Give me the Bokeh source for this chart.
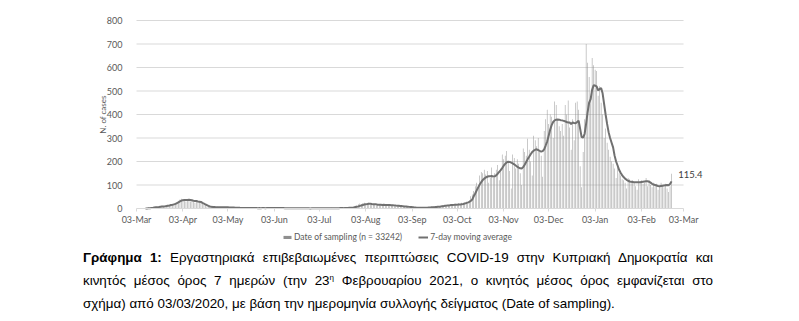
import math
import numpy as np
import pandas as pd
from bokeh.plotting import figure
from bokeh.models import Range1d, FixedTicker, Legend, LegendItem, Label, Div, ColumnDataSource
from bokeh.layouts import column
from bokeh.embed import file_html
from bokeh.resources import INLINE

# ---------------- data ----------------
start_date = "2020-03-03"
end_date = "2021-02-23"
n_total = 33242

# daily laboratory-confirmed cases by date of sampling
cases_mar = [0, 0, 0, 0, 0, 0, 2, 1, 4, 3, 6, 5, 7, 9, 6, 8, 10, 12, 9, 11, 14, 16, 13, 17, 19, 22, 20, 27, 33]
cases_apr = [38, 42, 40, 35, 30, 39, 36, 30, 33, 28, 25, 31, 27, 29, 24, 20, 15, 12, 9, 8,
             6, 7, 5, 6, 4, 7, 5, 6, 4, 5]
cases_may = [5, 4, 6, 3, 4, 2, 3, 4, 2, 3, 1, 2, 3, 1, 2, 2, 1, 2, 1, 3, 2, 1, 0, 2, 1, 3, 2, 1, 2, 1, 4]
cases_jun = [3, 2, 4, 1, 2, 3, 1, 0, 2, 1, 1, 0, 2, 0, 1, 1, 0, 1, 0, 2, 1, 0, 1, 0, 1, 0, 0, 2, 1, 0]
cases_jul = [1, 0, 2, 1, 0, 1, 2, 0, 1, 1, 3, 1, 0, 2, 1, 2, 3, 1, 2, 4, 3, 2, 5, 4, 6, 8, 12, 14, 18, 21, 19]
cases_aug = [22, 24, 17, 20, 25, 16, 15, 18, 19, 14, 16, 17, 15, 13, 18, 16, 12, 14, 15, 11,
             13, 12, 10, 9, 11, 8, 10, 7, 6, 8, 5]
cases_sep = [4, 3, 6, 2, 3, 2, 4, 3, 2, 4, 3, 5, 4, 6, 5, 7, 8, 6, 9, 11, 10, 12, 14, 11, 15, 13, 16, 14, 17, 15]
cases_oct = [18, 20, 12, 22, 19, 24, 21, 26, 30, 19, 35, 52, 60, 75, 95, 110, 90, 140, 155, 150,
             165, 145, 160, 110, 130, 175, 130, 150, 165, 185, 120]
cases_nov = [160, 230, 210, 225, 245, 200, 160, 85, 230, 215, 170, 210, 190, 150, 100, 255, 240, 225, 297, 250,
             200, 140, 310, 290, 265, 300, 240, 225, 135, 330]
cases_dec = [380, 420, 360, 400, 390, 300, 455, 440, 380, 350, 330, 360, 310, 440, 400, 460, 345, 250, 380, 290,
             450, 455, 420, 180, 90, 240, 380, 700, 620, 560, 470]
cases_jan = [640, 610, 590, 585, 480, 520, 450, 400, 300, 340, 280, 250, 220, 200, 190, 170, 130, 180, 150, 140,
             125, 120, 110, 85, 130, 125, 115, 120, 110, 95, 80]
cases_feb = [125, 115, 120, 105, 110, 130, 95, 120, 100, 90, 110, 95, 105, 80, 95, 110, 100, 90, 105, 85,
             70, 95, 148]

# 7-day moving average (as drawn)
ma_mar = [None, None, None, None, None, None, 0.3, 0.4, 1.0, 1.4, 2.3, 3.0, 4.0, 4.9, 5.6, 6.3, 7.3, 8.1, 8.7,
          9.6, 10.6, 12.1, 13.0, 14.7, 15.9, 17.5, 19.5, 22.5, 26.5]
ma_apr = [30.0, 33.5, 35.5, 36.5, 36.5, 36.0, 37.0, 36.0, 35.0, 33.0, 31.5, 31.5, 30.0, 29.0, 28.0, 24.0, 21.0,
          17.0, 14.0, 11.0, 8.5, 7.0, 6.5, 6.0, 5.5, 5.7, 5.7, 5.7, 5.3, 5.3]
ma_may = [5.1, 5.0, 5.1, 4.7, 4.6, 4.0, 3.9, 3.7, 3.4, 3.4, 2.7, 2.4, 2.6, 2.3, 2.3, 2.0, 1.9, 2.0, 1.7, 1.7,
          1.9, 1.7, 1.4, 1.6, 1.4, 1.7, 1.7, 1.4, 1.6, 1.7, 2.0]
ma_jun = [2.1, 2.1, 2.4, 2.3, 2.1, 2.4, 2.3, 1.9, 1.9, 1.4, 1.4, 1.1, 1.0, 0.9, 1.0, 0.9, 0.7, 0.7, 0.7, 0.9,
          0.7, 0.7, 0.7, 0.7, 0.7, 0.6, 0.4, 0.6, 0.7, 0.6]
ma_jul = [0.6, 0.6, 0.9, 0.7, 0.7, 0.9, 1.0, 1.0, 1.0, 0.9, 1.1, 1.3, 1.1, 1.1, 1.3, 1.4, 1.7, 1.6, 1.6, 2.1,
          2.3, 2.4, 2.9, 3.0, 3.7, 4.6, 6.0, 7.3, 9.1, 11.1, 13.1]
ma_aug = [15.0, 17.3, 18.5, 19.4, 20.4, 20.3, 19.0, 18.0, 18.1, 17.6, 16.1, 16.3, 16.3, 15.1, 16.0, 15.4, 14.9,
          15.0, 14.7, 14.1, 14.1, 13.3, 12.4, 12.0, 11.6, 10.6, 10.3, 9.1, 8.7, 8.4, 7.9]
ma_sep = [6.9, 6.1, 5.9, 4.9, 4.4, 3.6, 3.4, 3.3, 3.1, 2.9, 3.0, 3.3, 3.4, 3.9, 4.1, 4.9, 5.6, 5.9, 6.4, 7.4,
          7.9, 8.9, 10.0, 10.4, 11.7, 12.3, 13.0, 13.6, 14.9, 15.0]
ma_oct = [15.6, 16.3, 15.9, 16.9, 17.1, 18.4, 19.4, 21.0, 23.0, 25.0, 28.0, 32.0, 38.0, 52.0, 64.0, 77.0, 90.0,
          102.0, 112.0, 121.0, 127.0, 132.0, 135.0, 137.0, 137.0, 138.0, 136.0, 137.0, 141.0, 148.0, 156.0]
ma_nov = [163, 172, 182, 190, 196, 199, 198, 195, 192, 188, 183, 178, 174, 171, 170, 176, 186, 198, 210, 220,
          231, 240, 246, 250, 252, 249, 245, 242, 244, 252]
ma_dec = [268, 285, 310, 335, 355, 368, 375, 378, 379, 378, 376, 375, 373, 371, 368, 366, 366, 360, 366, 364,
          363, 368, 374, 340, 304, 302, 318, 360, 410, 450, 465]
ma_jan = [505, 524, 523, 520, 503, 508, 513, 490, 445, 400, 360, 325, 300, 280, 260, 225, 200, 183, 165, 152,
          142, 134, 127, 122, 118, 115, 114, 113, 112, 112, 112]
ma_feb = [112, 112, 113, 114, 115, 116, 116, 114, 110, 105, 102, 100, 98, 96, 95, 96, 97, 98, 99, 100,
          99, 104, 115.4]

tick_dates = ["2020-03-03", "2020-04-03", "2020-05-03", "2020-06-03", "2020-07-03", "2020-08-03",
              "2020-09-03", "2020-10-03", "2020-11-03", "2020-12-03", "2021-01-03", "2021-02-03", "2021-03-03"]
tick_labels = ["03-Mar", "03-Apr", "03-May", "03-Jun", "03-Jul", "03-Aug", "03-Sep",
               "03-Oct", "03-Nov", "03-Dec", "03-Jan", "03-Feb", "03-Mar"]
y_ticks = [0, 100, 200, 300, 400, 500, 600, 700, 800]

bar_label = f"Date of sampling (n = {n_total})"
line_label = "7-day moving average"
y_title = "N. of cases"

caption_bold = "Γράφημα 1:"
caption_1 = "Εργαστηριακά επιβεβαιωμένες περιπτώσεις COVID-19 στην Κυπριακή Δημοκρατία και"
caption_2a = "κινητός μέσος όρος 7 ημερών (την 23"
caption_2sup = "η"
caption_2b = "Φεβρουαρίου 2021, ο κινητός μέσος όρος εμφανίζεται στο"
caption_3 = "σχήμα) από 03/03/2020, με βάση την ημερομηνία συλλογής δείγματος (Date of sampling)."

# ---------------- build ----------------
cases = (cases_mar + cases_apr + cases_may + cases_jun + cases_jul + cases_aug + cases_sep +
         cases_oct + cases_nov + cases_dec + cases_jan + cases_feb)
ma = (ma_mar + ma_apr + ma_may + ma_jun + ma_jul + ma_aug + ma_sep +
      ma_oct + ma_nov + ma_dec + ma_jan + ma_feb)
dates = pd.date_range(start_date, end_date)
t0 = pd.Timestamp(start_date)
day = np.array((dates - t0).days, dtype=float)
src = ColumnDataSource(dict(day=day, cases=np.array(cases, dtype=float), ma=np.array(ma, dtype=float)))
tick_pos = [int((pd.Timestamp(d) - t0).days) for d in tick_dates]
axis_end = tick_pos[-1]
y_top = y_ticks[-1]

FONT = "Lato"
GREY_TXT = "#595959"
GRID = "#d9d9d9"

# layout geometry (pixels)
FIG_H = 246
TOP = 20            # pixel row of the top gridline
FRAME_TOP = 6       # frame starts higher so the top tick label is not cut
ZERO_ROW = 208      # pixel row of the value 0
LEFT = 136          # pixel column of the first date
FRAME_LEFT = 88     # frame starts further left so that axis texts stay inside it
AXIS_PX = 547       # pixel length of the date axis
px_per_day = AXIS_PX / axis_end
extra_days = 26
x_start = -(LEFT - FRAME_LEFT) / px_per_day
frame_right = LEFT + (axis_end + extra_days) * px_per_day
px_per_unit = (ZERO_ROW - TOP) / y_top
y_start = -(FIG_H - ZERO_ROW) / px_per_unit
y_end = y_top + (TOP - FRAME_TOP) / px_per_unit

p = figure(width=799, height=FIG_H, output_backend="svg", toolbar_location=None,
           x_range=Range1d(x_start, axis_end + extra_days), y_range=Range1d(y_start, y_end),
           min_border_left=FRAME_LEFT, min_border_right=int(round(799 - frame_right)),
           min_border_top=FRAME_TOP, min_border_bottom=0)
p.outline_line_color = None
p.background_fill_color = "white"
p.border_fill_color = "white"
p.xgrid.grid_line_color = None
p.ygrid.grid_line_color = None

# horizontal gridlines limited to the axis span
p.segment(x0=[0] * len(y_ticks[1:]), x1=[axis_end] * len(y_ticks[1:]), y0=y_ticks[1:], y1=y_ticks[1:],
          line_color=GRID, line_width=1)

bars = p.vbar(x="day", top="cases", bottom=0, width=0.32, source=src,
              fill_color="#8f8f8f", line_color=None)
line = p.line(x="day", y="ma", source=src, line_color="#707070", line_width=2)

xa = p.xaxis[0]
xa.fixed_location = 0
xa.ticker = FixedTicker(ticks=tick_pos)
xa.bounds = (0, axis_end)
xa.major_label_overrides = {tp: lab for tp, lab in zip(tick_pos, tick_labels)}
xa.axis_line_color = GRID
xa.major_tick_line_color = GRID
xa.major_tick_out = 3
xa.major_tick_in = 0
xa.minor_tick_line_color = None
xa.major_label_standoff = 2
xa.major_label_text_font = FONT
xa.major_label_text_font_size = "9px"
xa.major_label_text_color = GREY_TXT

ya = p.yaxis[0]
ya.fixed_location = 0
ya.ticker = FixedTicker(ticks=y_ticks)
ya.bounds = (0, y_top)
ya.axis_line_color = None
ya.major_tick_line_color = None
ya.minor_tick_line_color = None
ya.major_label_standoff = 8
ya.major_label_text_font = FONT
ya.major_label_text_font_size = "9px"
ya.major_label_text_color = GREY_TXT

p.add_layout(Label(x=-(LEFT - 102) / px_per_day, y=y_top / 2, text=y_title, angle=math.pi / 2,
                   text_font=FONT, text_font_size="8px", text_color=GREY_TXT,
                   text_align="center", text_baseline="middle"))

legend = Legend(items=[LegendItem(label=bar_label, renderers=[bars]),
                       LegendItem(label=line_label, renderers=[line])],
                orientation="horizontal", location=(282 - FRAME_LEFT, 4),
                label_text_font=FONT, label_text_font_size="8.5px", label_text_color=GREY_TXT,
                glyph_width=10, glyph_height=4, label_height=10, label_standoff=2, spacing=16,
                padding=0, margin=0, border_line_alpha=0, background_fill_alpha=0)
p.add_layout(legend)

last_val = src.data["ma"][-1]
p.add_layout(Label(x=day[-1] + 4.5, y=143, text=f"{last_val:.1f}", text_font=FONT,
                   text_font_size="9.5px", text_color="#404040", text_baseline="middle", text_align="left"))

line_style = "margin:0;padding:0;height:23px;"
caption_html = (
    '<div style="width:799px;height:75px;font-family:\'Liberation Sans\',Arial,sans-serif;'
    'font-size:13.4px;line-height:23px;color:#000;">'
    f'<div style="{line_style}margin-left:83px;width:630px;text-align:justify;text-align-last:justify;">'
    f'<b>{caption_bold}</b> {caption_1}</div>'
    f'<div style="{line_style}margin-left:83px;width:630px;text-align:justify;text-align-last:justify;">'
    f'{caption_2a}<span style="position:relative;top:-5px;font-size:8px;line-height:0;">{caption_2sup}</span> '
    f'{caption_2b}</div>'
    f'<div style="{line_style}margin-left:83px;width:630px;text-align:left;">{caption_3}</div>'
    '</div>'
)
div = Div(text=caption_html, width=799, height=75, margin=(0, 0, 0, 0))

layout = column(p, div, spacing=0)
open("out.html", "w").write(file_html(layout, INLINE))
